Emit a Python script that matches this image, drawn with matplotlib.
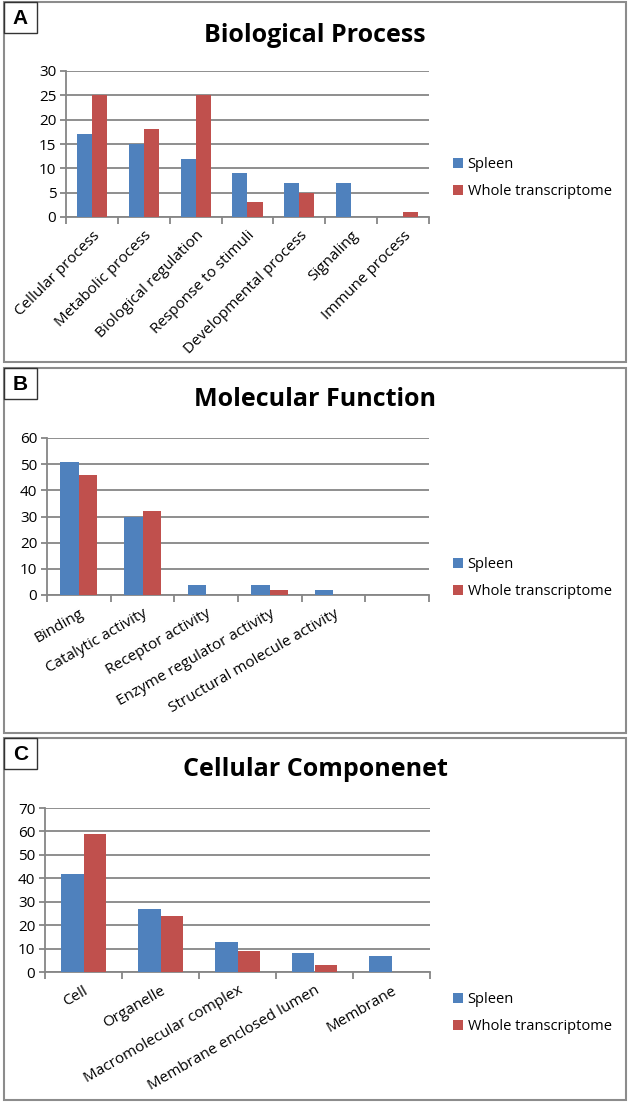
import numpy as np
import matplotlib.pyplot as plt
from matplotlib.patches import Rectangle

W, H = 630, 1103

# data
bp_labels = ["Cellular process", "Metabolic process", "Biological regulation",
             "Response to stimuli", "Developmental process", "Signaling", "Immune process"]
bp_spleen = [17, 15, 12, 9, 7, 7, 0]
bp_whole = [25, 18, 25, 3, 5, 0, 1]

mf_labels = ["Binding", "Catalytic activity", "Receptor activity",
             "Enzyme regulator activity", "Structural molecule activity", ""]
mf_spleen = [51, 30, 4, 4, 2, 0]
mf_whole = [46, 32, 0, 2, 0, 0]

cc_labels = ["Cell", "Organelle", "Macromolecular complex",
             "Membrane enclosed lumen", "Membrane"]
cc_spleen = [42, 27, 13, 8, 7]
cc_whole = [59, 24, 9, 3, 0]

series_names = ["Spleen", "Whole transcriptome"]
blue = "#4F81BD"
red = "#C0504D"
grid = "#868686"

plt.rcParams['font.family'] = ['Open Sans', 'DejaVu Sans']

fig = plt.figure(figsize=(W / 100, H / 100), dpi=100)


def rect(x0, y0, x1, y1):
    # pixel coords (top-down) -> figure fraction
    return [x0 / W, 1 - y1 / H, (x1 - x0) / W, (y1 - y0) / H]


def frame(x0, y0, x1, y1, letter):
    fig.patches.append(Rectangle((x0 / W, 1 - y1 / H), (x1 - x0) / W, (y1 - y0) / H,
                                 transform=fig.transFigure, fill=False,
                                 edgecolor="#8c8c8c", linewidth=1.5))
    fig.patches.append(Rectangle((x0 / W, 1 - (y0 + 31) / H), 33 / W, 31 / H,
                                 transform=fig.transFigure, fill=False,
                                 edgecolor="#333333", linewidth=1.0))
    fig.text((x0 + 16.5) / W, 1 - (y0 + 16) / H, letter, ha="center", va="center",
             fontsize=15, fontweight="bold", family="Liberation Sans")


def panel(box, labels, s1, s2, ymax, step, title, title_y, rot, leg_y):
    ax = fig.add_axes(rect(*box))
    n = len(labels)
    x = np.arange(n)
    w = 0.29
    ax.bar(x - w / 2, s1, w, color=blue, zorder=3, label=series_names[0])
    ax.bar(x + w / 2, s2, w, color=red, zorder=3, label=series_names[1])
    ax.set_xlim(-0.5, n - 0.5)
    ax.set_ylim(0, ymax)
    ax.set_yticks(np.arange(0, ymax + 1, step))
    ax.yaxis.grid(True, color=grid, linewidth=1.3, zorder=0)
    for s in ["top", "right"]:
        ax.spines[s].set_visible(False)
    for s in ["left", "bottom"]:
        ax.spines[s].set_color(grid)
        ax.spines[s].set_linewidth(1.3)
    ax.tick_params(axis="y", length=4, color=grid, width=1.3, labelsize=11, pad=3)
    ax.set_xticks(x)
    ax.set_xticklabels(labels, rotation=rot, ha="right", rotation_mode="anchor",
                       fontsize=11)
    ax.tick_params(axis="x", length=0, pad=8)
    ax.set_xticks(np.arange(n + 1) - 0.5, minor=True)
    ax.tick_params(axis="x", which="minor", length=5, color=grid, width=1.3)
    fig.text(315 / W, 1 - title_y / H, title, ha="center", va="center",
             fontsize=18, fontweight="bold")
    fig.legend(handles=ax.patches[:1] + ax.patches[n:n + 1], labels=series_names,
               loc="center left", bbox_to_anchor=(440 / W, 1 - leg_y / H),
               frameon=False, fontsize=10.5, handlelength=0.7, handleheight=0.7,
               handletextpad=0.3, labelspacing=0.8)
    return ax


frame(4, 2, 626, 362, "A")
panel((66, 71, 429, 217), bp_labels, bp_spleen, bp_whole, 30, 5,
      "Biological Process", 35, 45, 178)

frame(4, 368, 626, 733, "B")
panel((47, 438, 429, 595), mf_labels, mf_spleen, mf_whole, 60, 10,
      "Molecular Function", 400, 30, 578)

frame(4, 738, 626, 1100, "C")
panel((45, 808, 430, 972), cc_labels, cc_spleen, cc_whole, 70, 10,
      "Cellular Componenet", 769, 30, 1013)

plt.savefig("out.png", dpi=100)
